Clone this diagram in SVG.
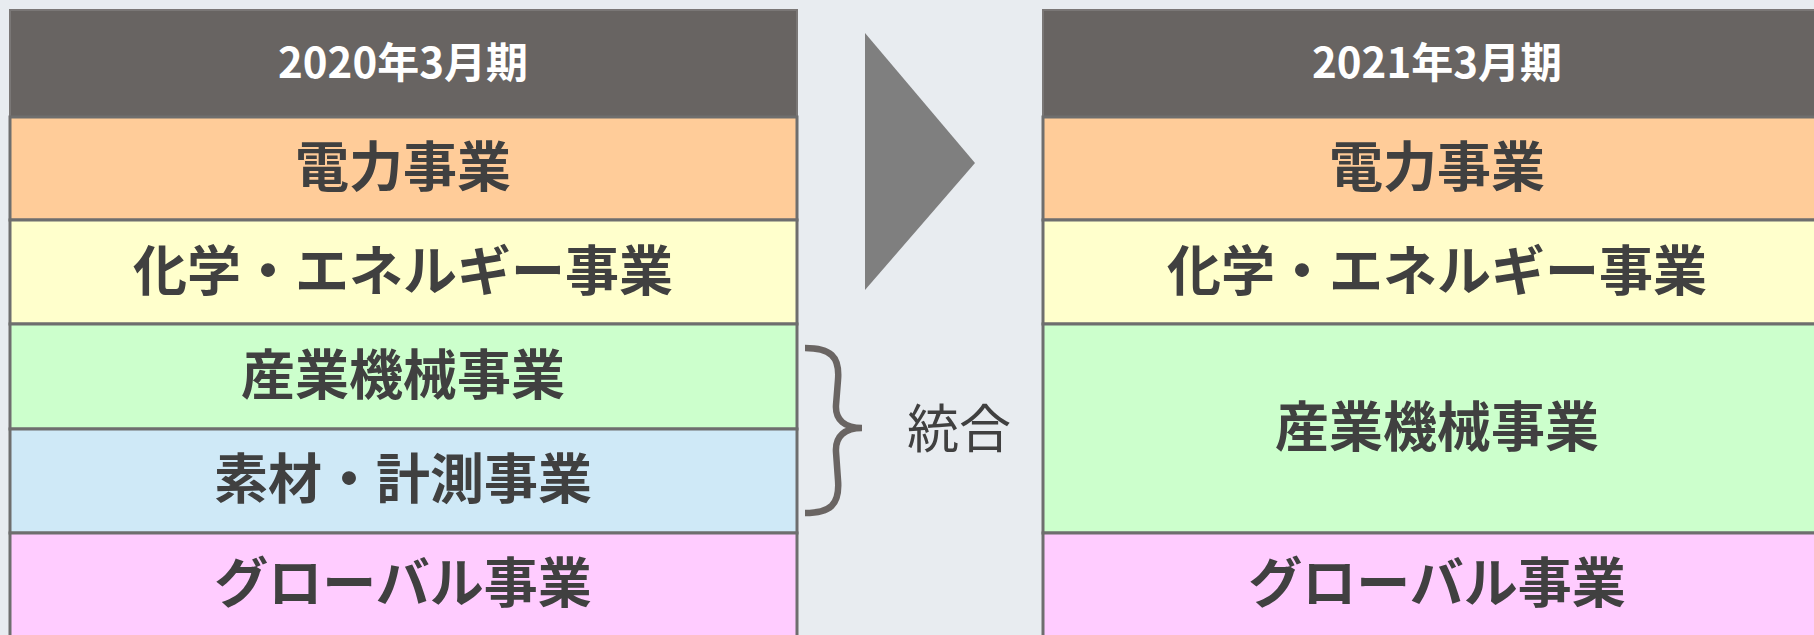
<svg xmlns="http://www.w3.org/2000/svg" width="1814" height="635" viewBox="0 0 1814 635">
<style>
.hdr{fill:#686462;stroke:#7a7776;stroke-width:2}
.cell{stroke:#6e6e6e;stroke-width:3}
.ht{font-family:"Noto Sans CJK JP","Noto Sans",sans-serif;font-weight:bold;font-size:42px;fill:#ffffff;text-anchor:middle}
.rt{font-family:"Noto Sans CJK JP","Noto Sans",sans-serif;font-weight:bold;font-size:54px;fill:#404040;text-anchor:middle}
.or{fill:#ffcc99}.ye{fill:#ffffcc}.gr{fill:#ccffcc}.bl{fill:#cfe9f7}.pk{fill:#ffccff}
</style>
<rect width="1814" height="635" fill="#e8ecf0"/>
<g id="left-table">
<g id="l-header"><rect class="hdr" x="10" y="10" width="787" height="107"/><text class="ht" x="403" y="78">2020年3月期</text></g>
<g id="l-power"><rect class="cell or" x="10" y="117" width="787" height="103"/><text class="rt" x="403" y="187">電力事業</text></g>
<g id="l-chem"><rect class="cell ye" x="10" y="220" width="787" height="104"/><text class="rt" x="403" y="291">化学・エネルギー事業</text></g>
<g id="l-ind"><rect class="cell gr" x="10" y="324" width="787" height="105"/><text class="rt" x="403" y="395">産業機械事業</text></g>
<g id="l-mat"><rect class="cell bl" x="10" y="429" width="787" height="104"/><text class="rt" x="403" y="499">素材・計測事業</text></g>
<g id="l-global"><rect class="cell pk" x="10" y="533" width="787" height="104"/><text class="rt" x="403" y="603">グローバル事業</text></g>
</g>
<g id="arrow"><polygon points="865,33 975,163 865,290" fill="#7f7f7f"/></g>
<g id="connectors">
<path d="M805,348 C830,348 840,356 838,380 L836,405 C835,420 845,428 862,428 C845,428 835,436 836,452 L838,480 C840,505 830,513 805,513" fill="none" stroke="#6a6563" stroke-width="6.5"/>
</g>
<g id="merge-label"><text x="959" y="448" font-family="Noto Sans CJK JP,Noto Sans,sans-serif" font-size="52" fill="#404040" text-anchor="middle">統合</text></g>
<g id="right-table">
<g id="r-header"><rect class="hdr" x="1043" y="10" width="788" height="107"/><text class="ht" x="1437" y="78">2021年3月期</text></g>
<g id="r-power"><rect class="cell or" x="1043" y="117" width="788" height="103"/><text class="rt" x="1437" y="187">電力事業</text></g>
<g id="r-chem"><rect class="cell ye" x="1043" y="220" width="788" height="104"/><text class="rt" x="1437" y="291">化学・エネルギー事業</text></g>
<g id="r-ind"><rect class="cell gr" x="1043" y="324" width="788" height="209"/><text class="rt" x="1437" y="447">産業機械事業</text></g>
<g id="r-global"><rect class="cell pk" x="1043" y="533" width="788" height="104"/><text class="rt" x="1437" y="603">グローバル事業</text></g>
</g>
</svg>
